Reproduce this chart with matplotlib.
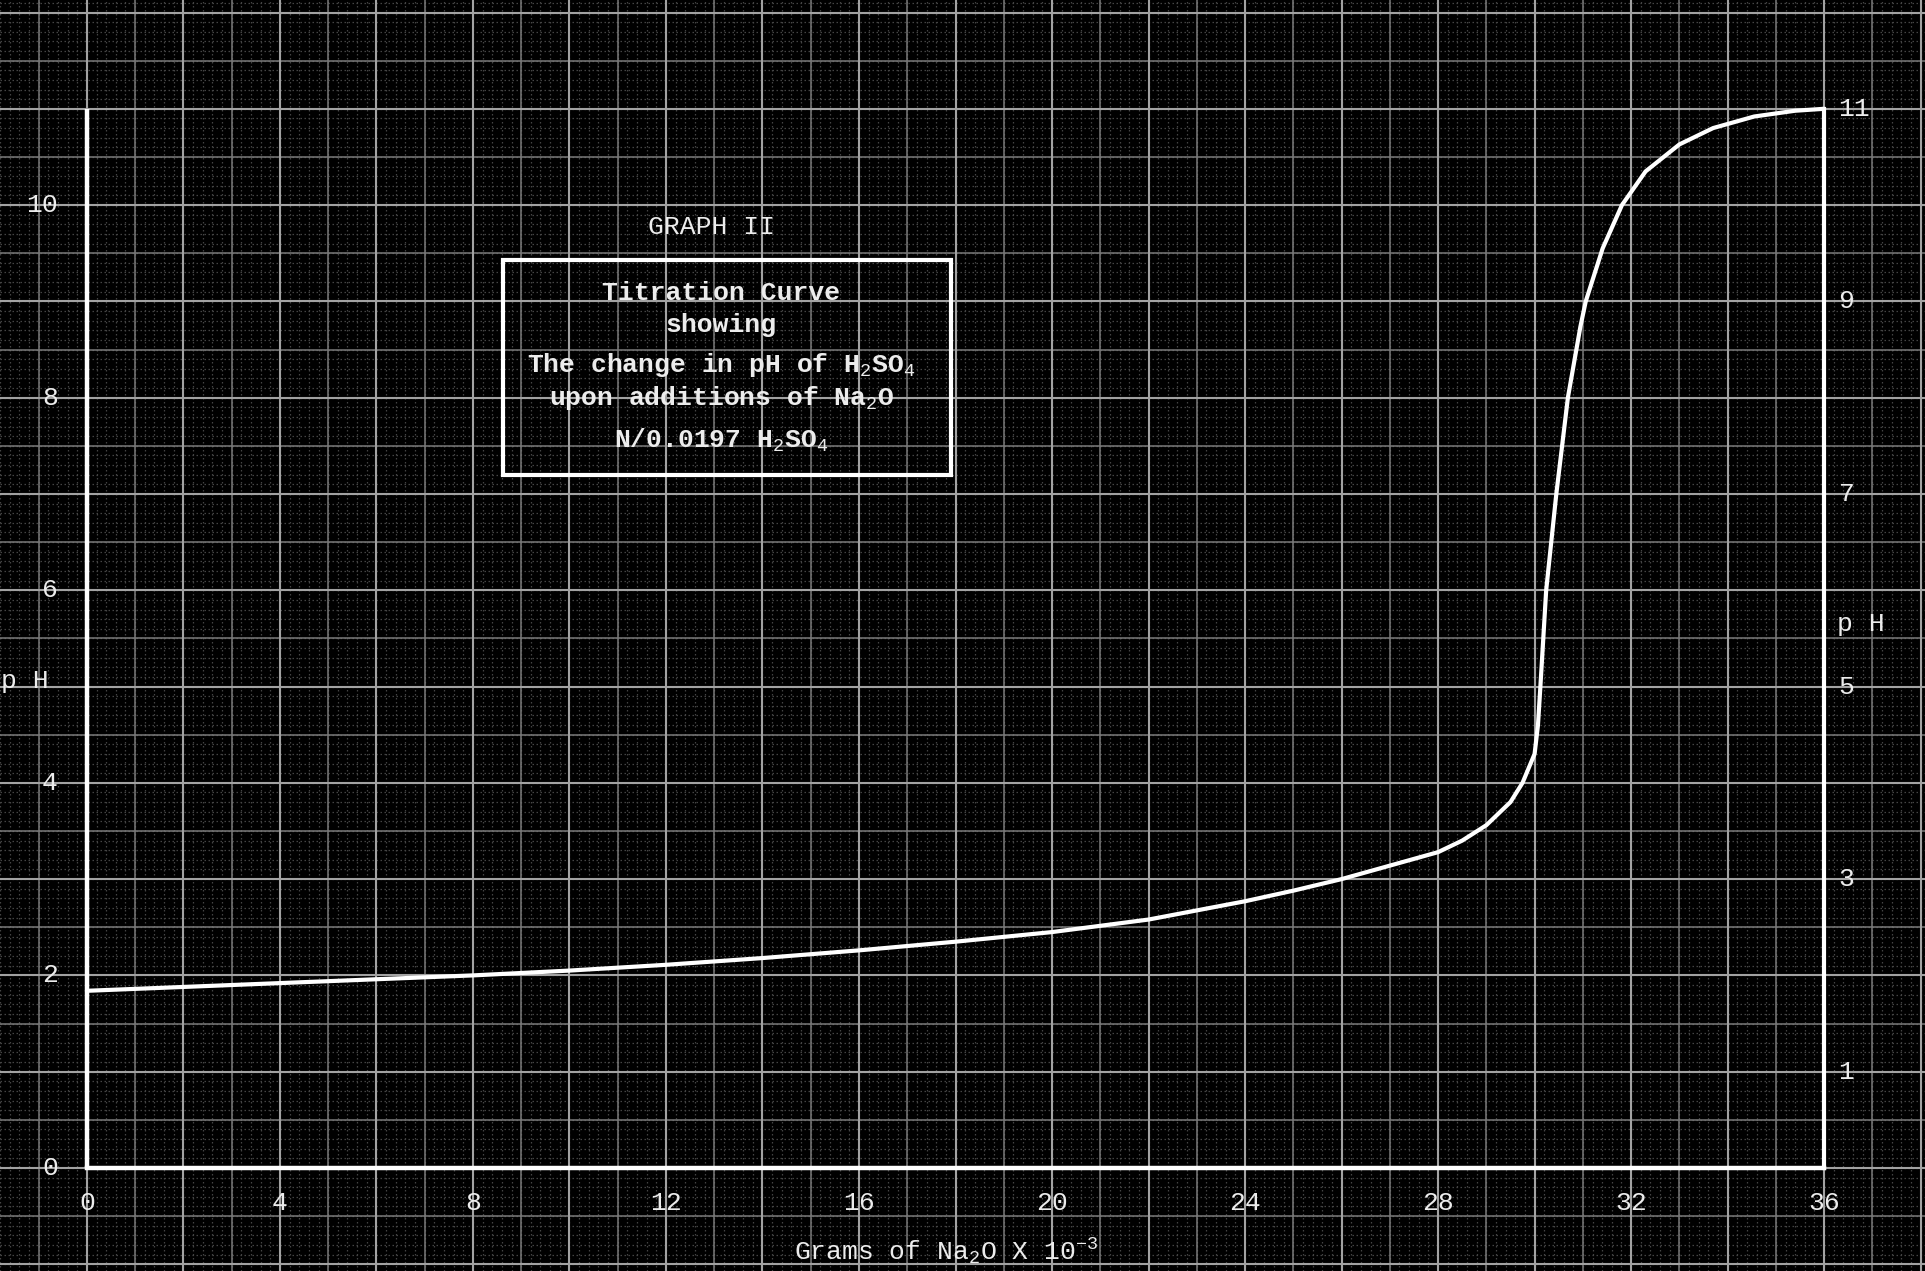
import numpy as np
import matplotlib
matplotlib.use("Agg")
import matplotlib.pyplot as plt
from matplotlib.patches import Rectangle

# ---- data ----
grams_na2o = [0, 2, 4, 6, 8, 10, 12, 14, 16, 18, 20, 22, 24, 25, 26, 27, 28, 28.5,
              29, 29.5, 29.75, 30.0, 30.07, 30.12, 30.18, 30.24, 30.45, 30.69,
              30.95, 31.06, 31.41, 31.81, 32.3, 33.0, 33.7, 34.55, 35.4, 36]
ph_values = [1.84, 1.88, 1.92, 1.96, 2.0, 2.05, 2.11, 2.18, 2.26, 2.35, 2.45, 2.58,
             2.77, 2.88, 3.0, 3.14, 3.28, 3.4, 3.56, 3.8, 4.0, 4.3, 4.6, 5.0, 5.5,
             6.0, 7.0, 8.0, 8.74, 9.0, 9.55, 10.0, 10.35, 10.63, 10.8, 10.92,
             10.98, 11.0]
x_ticks = [0, 4, 8, 12, 16, 20, 24, 28, 32, 36]
left_ticks = [0, 2, 4, 6, 8, 10]
right_ticks = [1, 3, 5, 7, 9, 11]
x_max = 36
y_max = 11

title_text = "GRAPH II"
box_lines = ["Titration Curve", "showing", "The change in pH of H$_2$SO$_4$",
             "upon additions of Na$_2$O", "N/0.0197 H$_2$SO$_4$"]
x_label = "Grams of Na$_2$O X 10$^{-3}$"
y_label = "p H"

# ---- style ----
plt.rcParams['font.family'] = ['Liberation Mono', 'DejaVu Sans Mono']
plt.rcParams['mathtext.fontset'] = 'custom'
plt.rcParams['mathtext.rm'] = 'Liberation Mono'
plt.rcParams['mathtext.it'] = 'Liberation Mono'
plt.rcParams['mathtext.bf'] = 'Liberation Mono:bold'

W, H = 1925, 1271
fig = plt.figure(figsize=(W / 100, H / 100), dpi=100, facecolor='black')
ax = fig.add_axes([0, 0, 1, 1])
ax.set_facecolor('black')
ax.set_xlim(-1.80, 38.09)
ax.set_ylim(-1.07, 12.13)
ax.axis('off')

# graph-paper grid across the whole figure
xt = ax.get_xaxis_transform()
yt = ax.get_yaxis_transform()
xs_minor = np.arange(-1.8, 38.2, 0.2)
ys_minor = np.arange(-1.0, 12.2, 0.1)
ax.vlines(xs_minor, 0, 1, transform=xt, colors='#444444', lw=0.9,
          linestyles=(0, (1.2, 2.0)), zorder=1)
ax.hlines(ys_minor, 0, 1, transform=yt, colors='#444444', lw=0.9,
          linestyles=(0, (1.2, 2.0)), zorder=1)
ax.vlines(np.arange(-1, 39, 2), 0, 1, transform=xt, colors='#7a7a7a', lw=1.1, zorder=2)
ax.hlines(np.arange(-0.5, 12.5, 1), 0, 1, transform=yt, colors='#7a7a7a', lw=1.1, zorder=2)
ax.vlines(np.arange(-2, 40, 2), 0, 1, transform=xt, colors='#a2a2a2', lw=1.5, zorder=2)
ax.hlines(np.arange(-1, 13, 1), 0, 1, transform=yt, colors='#a2a2a2', lw=1.5, zorder=2)

# axes frame (drawn in white like the original)
ax.plot([0, 0], [0, y_max], color='white', lw=3.2, solid_capstyle='butt', zorder=4)
ax.plot([0, x_max], [0, 0], color='white', lw=3.2, zorder=4)
ax.plot([x_max, x_max], [0, y_max], color='white', lw=3.0, zorder=4)

# titration curve
ax.plot(grams_na2o, ph_values, color='white', lw=3.0, solid_joinstyle='round',
        solid_capstyle='round', zorder=5)

tcol = '#ececec'
fs = 19
for v in left_ticks:
    ax.text(-0.6, v, str(v), ha='right', va='center', color=tcol, fontsize=fs, zorder=6)
for v in right_ticks:
    ax.text(36.3, v, str(v), ha='left', va='center', color=tcol, fontsize=fs, zorder=6)
for v in x_ticks:
    ax.text(v, -0.36, str(v), ha='center', va='center', color=tcol, fontsize=fs, zorder=6)

ax.text(17.8, -0.87, x_label, ha='center', va='center', color=tcol, fontsize=fs, zorder=6)
ax.text(-1.29, 5.06, y_label, ha='center', va='center', color=tcol, fontsize=fs, zorder=6)
ax.text(36.75, 5.65, y_label, ha='center', va='center', color=tcol, fontsize=fs, zorder=6)

# title and boxed caption
ax.text(12.95, 9.77, title_text, ha='center', va='center', color=tcol, fontsize=fs, zorder=6)
ax.add_patch(Rectangle((8.62, 7.20), 17.9 - 8.62, 9.43 - 7.20, fill=False,
                       edgecolor='white', lw=3.0, zorder=5))
line_y = [9.09, 8.75, 8.34, 8.0, 7.56]
for txt, yy in zip(box_lines, line_y):
    ax.text(13.15, yy, txt, ha='center', va='center', color=tcol, fontsize=fs,
            fontweight='bold', zorder=6)

fig.savefig('out.png', dpi=100, facecolor='black')
